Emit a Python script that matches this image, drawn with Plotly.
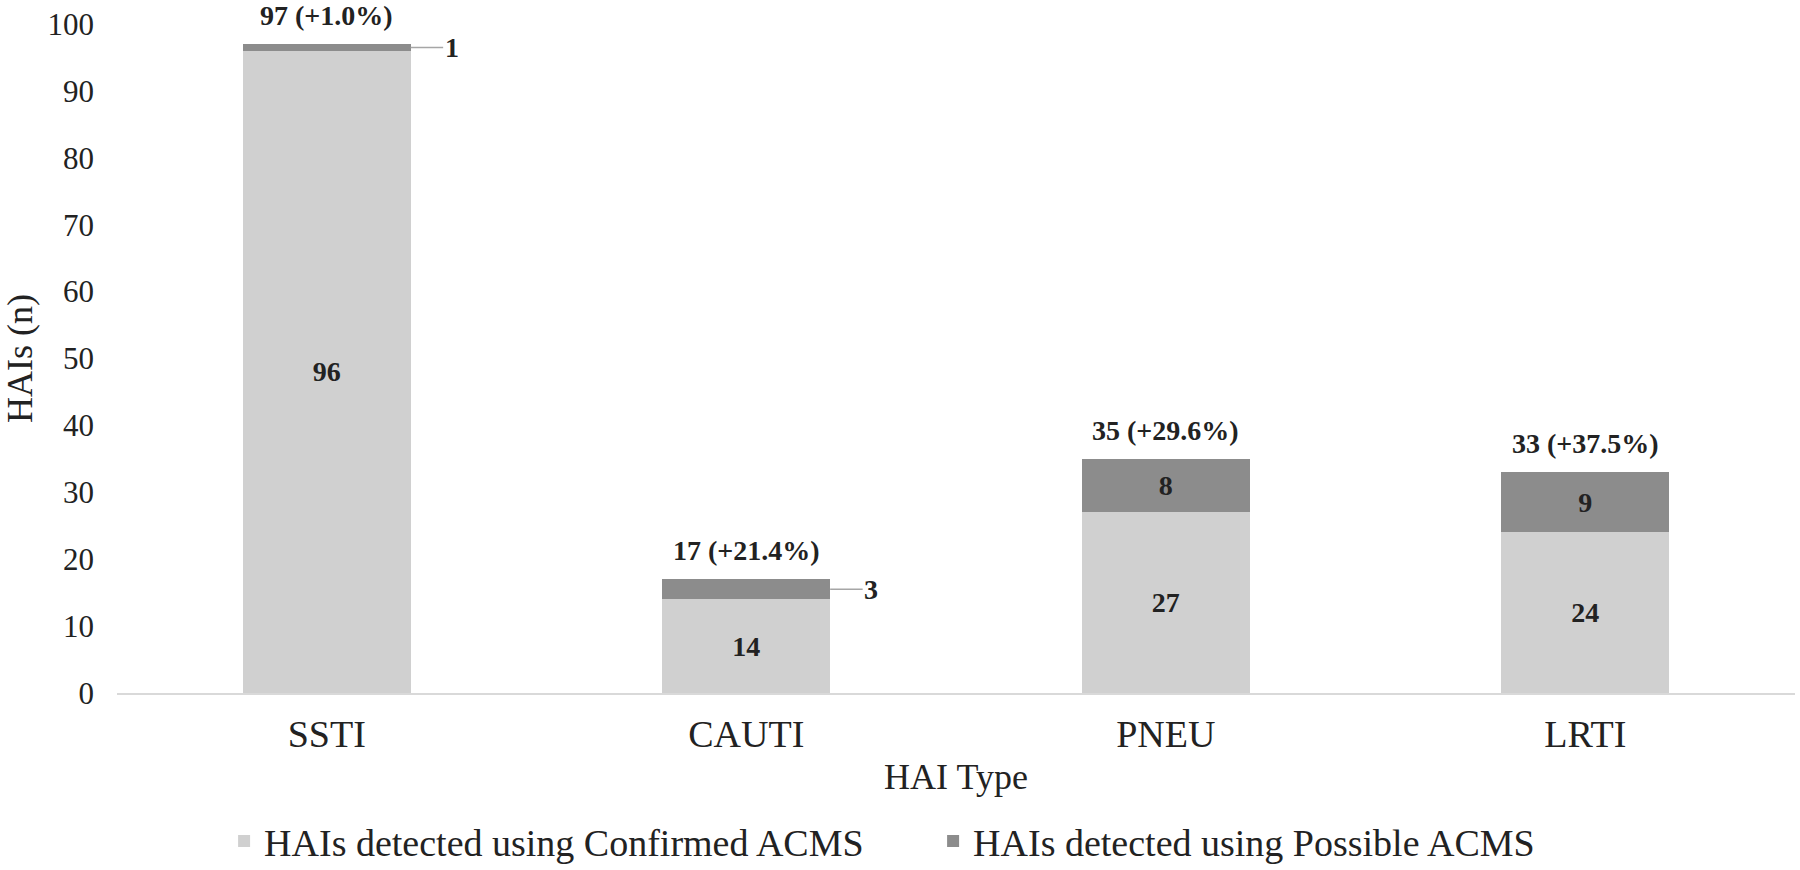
import plotly.graph_objects as go

# HAI counts by type
categories = ['SSTI', 'CAUTI', 'PNEU', 'LRTI']
confirmed = [96, 14, 27, 24]
possible = [1, 3, 8, 9]

totals = [c + p for c, p in zip(confirmed, possible)]
pct_increase = [p / c * 100 for c, p in zip(confirmed, possible)]

FONT = 'Liberation Serif'
TXT = '#222222'
LIGHT = '#d0d0d0'
DARK = '#8c8c8c'

fig = go.Figure()
fig.add_trace(go.Bar(
    x=categories, y=confirmed, name='HAIs detected using Confirmed ACMS',
    marker=dict(color=LIGHT, line=dict(width=0)),
    text=[str(v) for v in confirmed], texttemplate='%{text}',
    textposition='inside', insidetextanchor='middle', textangle=0,
    textfont=dict(family=FONT, size=28, color=TXT, weight='bold'),
    hoverinfo='skip'))
# small segments get an outside leader label instead
fig.add_trace(go.Bar(
    x=categories, y=possible, name='HAIs detected using Possible ACMS',
    marker=dict(color=DARK, line=dict(width=0)),
    text=[str(v) if v >= 5 else '' for v in possible], texttemplate='%{text}',
    textposition='inside', insidetextanchor='middle', textangle=0,
    textfont=dict(family=FONT, size=28, color=TXT, weight='bold'),
    hoverinfo='skip'))

annotations = []
for i, cat in enumerate(categories):
    annotations.append(dict(
        x=cat, y=totals[i], xref='x', yref='y', showarrow=False,
        text='<b>%d (+%.1f%%)</b>' % (totals[i], pct_increase[i]),
        yanchor='bottom', yshift=12, borderpad=0,
        font=dict(family=FONT, size=28, color=TXT)))
    if possible[i] < 5:
        annotations.append(dict(
            x=i + 0.2, y=confirmed[i] + possible[i] / 2, xref='x', yref='y',
            text='<b>%d</b>' % possible[i], showarrow=True, arrowhead=0,
            arrowwidth=1.5, arrowcolor='#a6a6a6', ax=41, ay=0,
            font=dict(family=FONT, size=28, color=TXT)))

fig.update_layout(
    barmode='stack', bargap=0.6,
    width=1800, height=870,
    paper_bgcolor='white', plot_bgcolor='white',
    margin=dict(l=117, r=5, t=24, b=177),
    font=dict(family=FONT, color=TXT),
    annotations=annotations,
    showlegend=True,
    legend=dict(orientation='h', xref='container', yref='container',
                x=0.1245, xanchor='left', y=0.033, yanchor='middle',
                entrywidth=664, entrywidthmode='pixels',
                font=dict(family=FONT, size=38, color=TXT),
                traceorder='normal'),
)
fig.update_xaxes(
    automargin=False,
    showline=True, linecolor='#d9d9d9', linewidth=2, showgrid=False,
    ticks='', tickfont=dict(family=FONT, size=38, color=TXT),
    ticklabelstandoff=6,
    title=dict(text='HAI Type', font=dict(family=FONT, size=36, color=TXT), standoff=10))
fig.update_yaxes(
    automargin=False,
    range=[0, 100], dtick=10, showline=False, showgrid=False, zeroline=False,
    ticks='', tickfont=dict(family=FONT, size=31, color=TXT),
    ticklabelstandoff=22,
    title=dict(text='HAIs (n)', font=dict(family=FONT, size=36, color=TXT), standoff=23))

# drop the default body margin so the figure sits at the page corner
fig.write_html('out.html', config={'displayModeBar': False},
               post_script="document.body.style.margin='0';")
